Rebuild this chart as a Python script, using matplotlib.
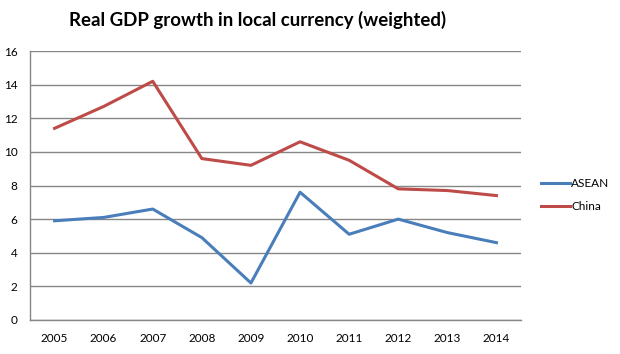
import numpy as np
import matplotlib.pyplot as plt

years = ['2005', '2006', '2007', '2008', '2009', '2010', '2011', '2012', '2013', '2014']
asean = [5.9, 6.1, 6.6, 4.9, 2.2, 7.6, 5.1, 6.0, 5.2, 4.6]
china = [11.4, 12.7, 14.2, 9.6, 9.2, 10.6, 9.5, 7.8, 7.7, 7.4]
yticks = [0, 2, 4, 6, 8, 10, 12, 14, 16]

plt.rcParams['font.family'] = ['Lato', 'DejaVu Sans']

fig = plt.figure(figsize=(6.2, 3.54), dpi=100)
ax = fig.add_axes([30/620, 1-320/354, 491/620, 269/354])

x = np.arange(len(years))
ax.plot(x, asean, color='#4A7EBB', lw=2.2, label='ASEAN')
ax.plot(x, china, color='#BE4B48', lw=2.2, label='China')

ax.set_xlim(-0.5, len(years)-0.5)
ax.set_ylim(0, 16)
ax.set_yticks(yticks)
ax.set_xticks(x)
ax.set_xticklabels(years)
ax.tick_params(length=0, labelsize=8.5)
ax.tick_params(axis='x', pad=9)
ax.tick_params(axis='y', pad=9)
ax.yaxis.grid(True, color='#868686', lw=1)
ax.set_axisbelow(True)
for s in ['top', 'right']:
    ax.spines[s].set_visible(False)
for s in ['left', 'bottom']:
    ax.spines[s].set_color('#868686')
    ax.spines[s].set_linewidth(1)

fig.text(258/620, 1-20/354, 'Real GDP growth in local currency (weighted)',
         ha='center', va='center', fontsize=13.4, fontweight='bold')

ax.legend(loc='center left', bbox_to_anchor=(530/620, 1-195/354), bbox_transform=fig.transFigure,
          frameon=False, fontsize=8.5, handlelength=2.5, handletextpad=0.1, labelspacing=1.0)

fig.savefig('out.png', dpi=100)
